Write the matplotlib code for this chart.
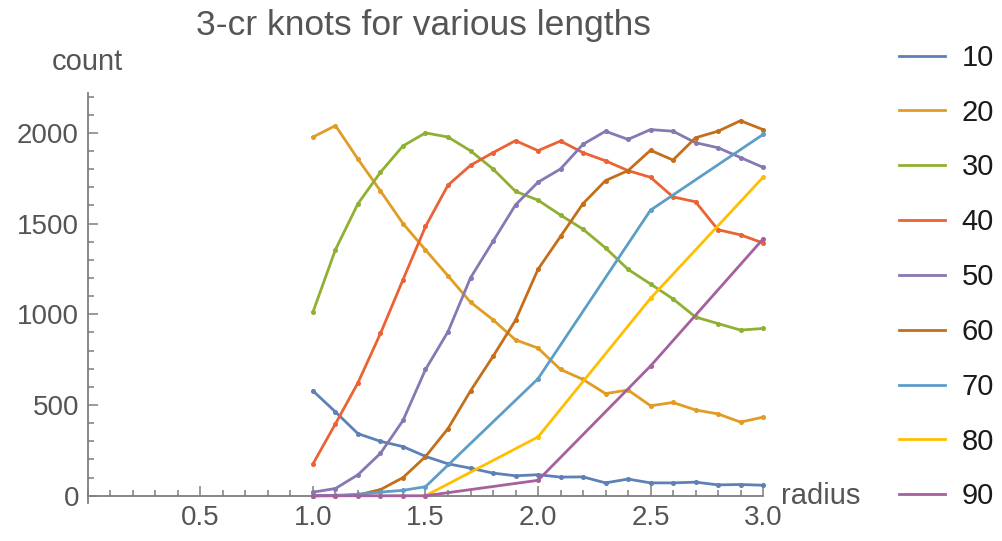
import numpy as np
import matplotlib
matplotlib.use("Agg")
import matplotlib.pyplot as plt
from matplotlib.lines import Line2D
from matplotlib.ticker import MultipleLocator

plt.rcParams['font.family'] = ['Liberation Sans', 'DejaVu Sans']

# radius grid used by the full series
radius = [1.0, 1.1, 1.2, 1.3, 1.4, 1.5, 1.6, 1.7, 1.8, 1.9, 2.0,
          2.1, 2.2, 2.3, 2.4, 2.5, 2.6, 2.7, 2.8, 2.9, 3.0]

len10 = [578, 462, 342, 300, 271, 217, 176, 152, 125, 110, 116,
         103, 104, 71, 92, 71, 71, 75, 60, 62, 58]
len20 = [1977, 2040, 1855, 1680, 1500, 1355, 1212, 1067, 970, 859, 814,
         696, 641, 563, 583, 496, 514, 473, 451, 406, 433]
len30 = [1013, 1357, 1610, 1783, 1928, 2000, 1977, 1901, 1801, 1678, 1629,
         1547, 1469, 1366, 1248, 1167, 1085, 985, 949, 913, 922]
len40 = [176, 397, 623, 895, 1191, 1484, 1712, 1821, 1891, 1957, 1902,
         1955, 1891, 1846, 1792, 1755, 1647, 1620, 1466, 1438, 1393]
len50 = [20, 40, 116, 234, 415, 696, 904, 1201, 1402, 1603, 1728,
         1801, 1937, 2009, 1964, 2018, 2009, 1946, 1918, 1864, 1810]
len60 = [0, 0, 5, 34, 100, 216, 370, 578, 768, 967, 1248,
         1429, 1610, 1737, 1792, 1904, 1850, 1973, 2009, 2067, 2018]

# the longer knots were only sampled at a few radii
radius70 = [1.0, 1.1, 1.2, 1.3, 1.4, 1.5, 2.0, 2.5, 3.0]
len70 = [0, 2, 8, 20, 30, 50, 645, 1574, 1991]
radius80 = [1.5, 2.0, 2.5, 3.0]
len80 = [0, 324, 1088, 1755]
radius90 = [1.0, 1.1, 1.2, 1.3, 1.4, 1.5, 2.0, 2.5, 3.0]
len90 = [0, 0, 0, 0, 0, 0, 85, 715, 1415]

series = [
    ("10", radius, len10, "#5E81B5"),
    ("20", radius, len20, "#E19C24"),
    ("30", radius, len30, "#8FB032"),
    ("40", radius, len40, "#EB6235"),
    ("50", radius, len50, "#8778B3"),
    ("60", radius, len60, "#C56E1A"),
    ("70", radius70, len70, "#5D9EC7"),
    ("80", radius80, len80, "#FFBF00"),
    ("90", radius90, len90, "#A5609D"),
]

fig = plt.figure(figsize=(10.02, 5.41), dpi=100)
ax = fig.add_axes([0.0878, 0.0702, 0.6737, 0.758])

handles = []
for name, x, y, c in series:
    ax.plot(x, y, color=c, lw=2.0, marker='o', ms=2.6,
            clip_on=False, zorder=3)
    handles.append(Line2D([], [], color=c, lw=2.0, label=name))

axis_grey = "#7f7f7f"
text_grey = "#555555"

ax.set_xlim(0, 3.0)
ax.set_ylim(-40, 2220)
ax.spines['top'].set_visible(False)
ax.spines['right'].set_visible(False)
ax.spines['bottom'].set_position(('data', 0))
for s in ['left', 'bottom']:
    ax.spines[s].set_color(axis_grey)
    ax.spines[s].set_linewidth(1.3)

ax.xaxis.set_minor_locator(MultipleLocator(0.1))
ax.yaxis.set_major_locator(MultipleLocator(500))
ax.yaxis.set_minor_locator(MultipleLocator(100))
ax.set_xticks([0.5, 1.0, 1.5, 2.0, 2.5, 3.0])
ax.set_xticklabels(["0.5", "1.0", "1.5", "2.0", "2.5", "3.0"])
ax.tick_params(which='both', direction='in', color=axis_grey, width=1.1,
               labelcolor=text_grey, labelsize=20)
ax.tick_params(which='major', length=7)
ax.tick_params(which='minor', length=4.5)
ax.tick_params(axis='x', pad=7)
ax.tick_params(axis='y', pad=6.5)

ax.text(3.08, 0, "radius", color=text_grey, fontsize=21,
        va='center', ha='left', transform=ax.transData)
fig.text(0.052, 0.885, "count", color=text_grey, fontsize=21,
         va='center', ha='left')
fig.text(0.4227, 1 - 25 / 541, "3-cr knots for various lengths",
         color=text_grey, fontsize=25.5, ha='center', va='center')

leg = fig.legend(handles=handles, loc='upper left',
                 bbox_to_anchor=(0.897, 0.919), frameon=False,
                 fontsize=21, handlelength=1.6, handletextpad=0.55,
                 labelspacing=0.92, borderpad=0, borderaxespad=0)
for t in leg.get_texts():
    t.set_color("#1a1a1a")

fig.savefig("out.png", dpi=100)
